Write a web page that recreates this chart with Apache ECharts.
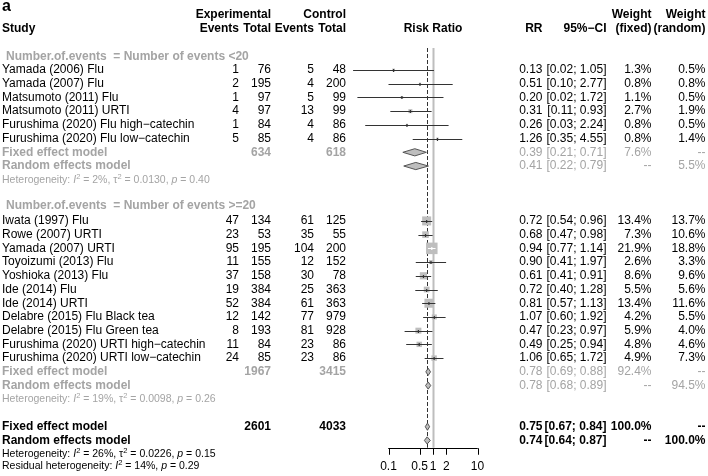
<!DOCTYPE html>
<html><head><meta charset="utf-8">
<script src="https://cdn.jsdelivr.net/npm/echarts@6/dist/echarts.min.js"></script>
<style>html,body{margin:0;padding:0;background:#fff}#c{width:708px;height:476px}</style>
</head><body><div id="c"></div>
<script>
// ---------------- data ----------------
const studies = ['Yamada (2006) Flu','Yamada (2007) Flu','Matsumoto (2011) Flu','Matsumoto (2011) URTI',
  'Furushima (2020) Flu high\u2212catechin','Furushima (2020) Flu low\u2212catechin',
  'Iwata (1997) Flu','Rowe (2007) URTI','Yamada (2007) URTI','Toyoizumi (2013) Flu','Yoshioka (2013) Flu',
  'Ide (2014) Flu','Ide (2014) URTI','Delabre (2015) Flu Black tea','Delabre (2015) Flu Green tea',
  'Furushima (2020) URTI high\u2212catechin','Furushima (2020) URTI low\u2212catechin'];
const studyGroup = [0,0,0,0,0,0, 1,1,1,1,1,1,1,1,1,1,1];
const expEvents  = [1,2,1,4,1,5, 47,23,95,11,37,19,52,12,8,11,24];
const expTotal   = [76,195,97,97,84,85, 134,53,195,155,158,384,384,142,193,84,85];
const ctrlEvents = [5,4,5,13,4,4, 61,35,104,12,30,25,61,77,81,23,23];
const ctrlTotal  = [48,200,99,99,86,86, 125,55,200,152,78,363,363,979,928,86,86];
const rr      = [0.13,0.51,0.20,0.31,0.26,1.26, 0.72,0.68,0.94,0.90,0.61,0.72,0.81,1.07,0.47,0.49,1.06];
const ciLow   = [0.016,0.10,0.02,0.11,0.03,0.35, 0.54,0.47,0.77,0.41,0.41,0.40,0.57,0.60,0.23,0.25,0.65];
const ciHigh  = [1.05,2.77,1.72,0.93,2.24,4.55, 0.96,0.98,1.14,1.97,0.91,1.28,1.13,1.92,0.97,0.94,1.72];
const wFixed  = [1.3,0.8,1.1,2.7,0.8,0.8, 13.4,7.3,21.9,2.6,8.6,5.5,13.4,4.2,5.9,4.8,4.9];
const wRandom = [0.5,0.8,0.5,1.9,0.5,1.4, 13.7,10.6,18.8,3.3,9.6,5.6,11.6,5.5,4.0,4.6,7.3];

const groupLabels = ['Number of events <20','Number of events >=20'];
const groupExpTotal  = [634, 1967];
const groupCtrlTotal = [618, 3415];
const groupFixedRR  = [0.39, 0.78], groupFixedLow  = [0.21, 0.69], groupFixedHigh  = [0.71, 0.88], groupFixedW  = [7.6, 92.4];
const groupRandomRR = [0.41, 0.78], groupRandomLow = [0.22, 0.68], groupRandomHigh = [0.79, 0.89], groupRandomW = [5.5, 94.5];
const hetI2   = ['2%','19%','26%'];
const hetTau2 = ['0.0130','0.0098','0.0226'];
const hetP    = ['0.40','0.26','0.15'];
const overallExpTotal = 2601, overallCtrlTotal = 4033;
const overallFixed  = [0.75, 0.67, 0.84, 100.0];
const overallRandom = [0.74, 0.64, 0.87, 100.0];
const residualI2 = '14%', residualP = '0.29';
const tickValues = [0.1, 0.5, 1, 2, 10];
const tickLabels = ['0.1','0.5','1','2','10'];

// ---------------- layout ----------------
const FONT = '"Liberation Sans", Arial, Helvetica, sans-serif';
const GREY = '#a4a4a4';
const FS = 12;
const COL = {study:2, grp:6, expEv:239, expTot:271, ctrlEv:314, ctrlTot:346, plot:433, rr:542.5, ci:606.5, wf:651.5, wr:705.5};
const SQ_K = 2.46;
const Y_MIN = -1.603, Y_MAX = 28.186, Y_AXIS = 27.53;
const ST = {
  n:  {fontSize:FS, fontWeight:'normal', fill:'#000'},
  b:  {fontSize:FS, fontWeight:'bold', fill:'#000'},
  g:  {fontSize:FS, fontWeight:'normal', fill:GREY},
  gb: {fontSize:FS, fontWeight:'bold', fill:GREY},
  a:  {fontSize:16, fontWeight:'bold', fill:'#000'},
  h:  {fontSize:10.5, fontWeight:'normal', fill:'#000'},
  hg: {fontSize:10.5, fontWeight:'normal', fill:GREY}
};

const textDefs = [], textData = [];
function T(row, x, text, align, st, rich) {
  textDefs.push({x, text, align, st, rich: !!rich});
  textData.push([1, row, textDefs.length - 1]);
}
const f2 = v => v.toFixed(2);
const ci = (lo, hi) => '[' + f2(lo) + '; ' + f2(hi) + ']';
const pct = v => v.toFixed(1) + '%';

// headers
T(-4.6, 2, 'a', 'left', 'a');
T(-4, COL.expTot, 'Experimental', 'right', 'b');
T(-4, COL.ctrlTot, 'Control', 'right', 'b');
T(-4, COL.wf, 'Weight', 'right', 'b');
T(-4, COL.wr, 'Weight', 'right', 'b');
T(-3, COL.study, 'Study', 'left', 'b');
T(-3, COL.expEv, 'Events', 'right', 'b');
T(-3, COL.expTot, 'Total', 'right', 'b');
T(-3, COL.ctrlEv, 'Events', 'right', 'b');
T(-3, COL.ctrlTot, 'Total', 'right', 'b');
T(-3, COL.plot, 'Risk Ratio', 'center', 'b');
T(-3, COL.rr, 'RR', 'right', 'b');
T(-3, COL.ci, '95%\u2212CI', 'right', 'b');
T(-3, COL.wf, '(fixed)', 'right', 'b');
T(-3, COL.wr, '(random)', 'right', 'b');

const studyData = [], diamondData = [];
let row = -1;
for (let g = 0; g < groupLabels.length; g++) {
  T(row - (g ? 0.12 : 0), COL.grp, 'Number.of.events  = ' + groupLabels[g], 'left', 'gb');
  row++;
  for (let i = 0; i < studies.length; i++) {
    if (studyGroup[i] !== g) continue;
    T(row, COL.study, studies[i], 'left', 'n');
    T(row, COL.expEv, String(expEvents[i]), 'right', 'n');
    T(row, COL.expTot, String(expTotal[i]), 'right', 'n');
    T(row, COL.ctrlEv, String(ctrlEvents[i]), 'right', 'n');
    T(row, COL.ctrlTot, String(ctrlTotal[i]), 'right', 'n');
    T(row, COL.rr, f2(rr[i]), 'right', 'n');
    T(row, COL.ci, ci(ciLow[i], ciHigh[i]), 'right', 'n');
    T(row, COL.wf, pct(wFixed[i]), 'right', 'n');
    T(row, COL.wr, pct(wRandom[i]), 'right', 'n');
    studyData.push([rr[i], row, ciLow[i], ciHigh[i], wFixed[i]]);
    row++;
  }
  T(row, COL.study, 'Fixed effect model', 'left', 'gb');
  T(row, COL.expTot, String(groupExpTotal[g]), 'right', 'gb');
  T(row, COL.ctrlTot, String(groupCtrlTotal[g]), 'right', 'gb');
  T(row, COL.rr, f2(groupFixedRR[g]), 'right', 'g');
  T(row, COL.ci, ci(groupFixedLow[g], groupFixedHigh[g]), 'right', 'g');
  T(row, COL.wf, pct(groupFixedW[g]), 'right', 'g');
  T(row, COL.wr, '--', 'right', 'g');
  diamondData.push([groupFixedRR[g], row, groupFixedLow[g], groupFixedHigh[g]]);
  row++;
  T(row, COL.study, 'Random effects model', 'left', 'gb');
  T(row, COL.rr, f2(groupRandomRR[g]), 'right', 'g');
  T(row, COL.ci, ci(groupRandomLow[g], groupRandomHigh[g]), 'right', 'g');
  T(row, COL.wf, '--', 'right', 'g');
  T(row, COL.wr, pct(groupRandomW[g]), 'right', 'g');
  diamondData.push([groupRandomRR[g], row, groupRandomLow[g], groupRandomHigh[g]]);
  row++;
  T(row, COL.study, 'Heterogeneity: {it|I}{sup|2} = ' + hetI2[g] + ', \u03c4{sup|2} = ' + hetTau2[g] + ', {it|p} = ' + hetP[g], 'left', 'hg', true);
  row += 2;
}
T(row, COL.study, 'Fixed effect model', 'left', 'b');
T(row, COL.expTot, String(overallExpTotal), 'right', 'b');
T(row, COL.ctrlTot, String(overallCtrlTotal), 'right', 'b');
T(row, COL.rr, f2(overallFixed[0]), 'right', 'b');
T(row, COL.ci, ci(overallFixed[1], overallFixed[2]), 'right', 'b');
T(row, COL.wf, pct(overallFixed[3]), 'right', 'b');
T(row, COL.wr, '--', 'right', 'b');
diamondData.push([overallFixed[0], row, overallFixed[1], overallFixed[2]]);
row++;
T(row, COL.study, 'Random effects model', 'left', 'b');
T(row, COL.rr, f2(overallRandom[0]), 'right', 'b');
T(row, COL.ci, ci(overallRandom[1], overallRandom[2]), 'right', 'b');
T(row, COL.wf, '--', 'right', 'b');
T(row, COL.wr, pct(overallRandom[3]), 'right', 'b');
diamondData.push([overallRandom[0], row, overallRandom[1], overallRandom[2]]);
T(row + 0.97, COL.study, 'Heterogeneity: {it|I}{sup|2} = ' + hetI2[2] + ', \u03c4{sup|2} = ' + hetTau2[2] + ', {it|p} = ' + hetP[2], 'left', 'h', true);
T(row + 1.86, COL.study, 'Residual heterogeneity: {it|I}{sup|2} = ' + residualI2 + ', {it|p} = ' + residualP, 'left', 'h', true);

// guides: [x, kind, x2, yRow]  kind 0 = no-effect line at 1, 1 = fixed-effect line, 2 = axis line, 3 = axis tick
const guideData = [[1, 0, 1, Y_AXIS], [overallFixed[0], 1, overallFixed[0], Y_AXIS],
  [tickValues[0], 2, tickValues[tickValues.length - 1], Y_AXIS]]
  .concat(tickValues.map(v => [v, 3, v, Y_AXIS]));

// ---------------- chart ----------------
const chart = echarts.init(document.getElementById('c'), null, {renderer: 'canvas'});
const px = v => Math.round(v) + 0.5;

chart.setOption({
  animation: false,
  backgroundColor: '#fff',
  grid: {left: 388.5, width: 89, top: 48, height: 408.7, outerBoundsMode: 'none', containLabel: false},
  xAxis: {
    type: 'log', logBase: 10, min: 0.1, max: 10,
    axisLine: {show: false, onZero: false},
    axisTick: {show: false},
    axisLabel: {
      customValues: tickValues, margin: 4, fontSize: 12, color: '#000', fontFamily: FONT,
      formatter: v => {
        const k = tickValues.findIndex(t => Math.abs(Math.log10(t) - Math.log10(v)) < 1e-6);
        return k >= 0 ? tickLabels[k] : '';
      }
    },
    splitLine: {show: false}
  },
  yAxis: {type: 'value', inverse: true, min: Y_MIN, max: Y_MAX, show: false},
  series: [
    {
      type: 'custom', name: 'guides', z: 2, clip: false, data: guideData, encode: {x: 0, y: 3},
      renderItem: (params, api) => {
        const cs = params.coordSys;
        const kind = api.value(1);
        const p = api.coord([api.value(0), api.value(3)]);
        const yb = px(p[1]);
        if (kind === 2) {
          const p2 = api.coord([api.value(2), api.value(3)]);
          return {type: 'line', shape: {x1: p[0], y1: yb, x2: p2[0], y2: yb}, style: {stroke: '#000', lineWidth: 1}};
        }
        if (kind === 3) {
          return {type: 'line', shape: {x1: px(p[0]), y1: yb, x2: px(p[0]), y2: yb + 6}, style: {stroke: '#000', lineWidth: 1}};
        }
        return {
          type: 'line',
          shape: {x1: px(p[0]), y1: cs.y, x2: px(p[0]), y2: p[1]},
          style: kind === 1 ? {stroke: '#333', lineWidth: 1, lineDash: [4, 2]} : {stroke: '#bebebe', lineWidth: 2}
        };
      }
    },
    {
      type: 'custom', name: 'studies', z: 3, clip: false, data: studyData, encode: {x: 0, y: 1},
      renderItem: (params, api) => {
        const r = api.value(1);
        const est = api.coord([api.value(0), r]);
        const lo = api.coord([api.value(2), r]);
        const hi = api.coord([api.value(3), r]);
        const side = SQ_K * Math.sqrt(api.value(4));
        const inside = lo[0] >= est[0] - side / 2 && hi[0] <= est[0] + side / 2;
        const lc = inside ? '#fff' : '#333';
        const y = px(est[1]);
        return {type: 'group', children: [
          {type: 'rect', shape: {x: est[0] - side / 2, y: est[1] - side / 2, width: side, height: side}, style: {fill: '#bebebe'}},
          {type: 'line', shape: {x1: lo[0], y1: y, x2: hi[0], y2: y}, style: {stroke: lc, lineWidth: 1}},
          {type: 'line', shape: {x1: est[0], y1: y - 1.5, x2: est[0], y2: y + 1.5}, style: {stroke: lc, lineWidth: 1.2}}
        ]};
      }
    },
    {
      type: 'custom', name: 'diamonds', z: 3, clip: false, data: diamondData, encode: {x: 0, y: 1},
      renderItem: (params, api) => {
        const r = api.value(1);
        const est = api.coord([api.value(0), r]);
        const lo = api.coord([api.value(2), r]);
        const hi = api.coord([api.value(3), r]);
        const h = 3.6;
        return {type: 'polygon', shape: {points: [[lo[0], est[1]], [est[0], est[1] - h], [hi[0], est[1]], [est[0], est[1] + h]]},
          style: {fill: '#bebebe', stroke: '#555', lineWidth: 1}};
      }
    },
    {
      type: 'custom', name: 'texts', z: 4, clip: false, data: textData, encode: {x: 0, y: 1},
      renderItem: (params, api) => {
        const d = textDefs[api.value(2)];
        const s = ST[d.st];
        const y = api.coord([1, api.value(1)])[1];
        const style = {
          text: d.text, x: 0, y: 0, fill: s.fill, fontSize: s.fontSize, fontWeight: s.fontWeight,
          fontFamily: FONT, align: d.align, verticalAlign: 'middle'
        };
        if (d.rich) {
          style.lineHeight = 14;
          style.rich = {
            it: {fontStyle: 'italic', fontSize: s.fontSize, fill: s.fill, fontFamily: FONT, lineHeight: 14},
            sup: {fontSize: 7.5, fill: s.fill, fontFamily: FONT, verticalAlign: 'top', lineHeight: 7}
          };
        }
        return {type: 'text', x: d.x, y: y, style: style};
      }
    }
  ]
});

// same axis line and ticks again as graphic elements (identical pixels), positioned through the chart's scales
try {
  const axisElems = [];
  const pStart = chart.convertToPixel({gridIndex: 0}, [tickValues[0], Y_AXIS]);
  const pEnd = chart.convertToPixel({gridIndex: 0}, [tickValues[tickValues.length - 1], Y_AXIS]);
  if (pStart && pEnd && isFinite(pStart[1])) {
    const yA = px(pStart[1]);
    axisElems.push({type: 'line', z: 100, silent: true,
      shape: {x1: pStart[0], y1: yA, x2: pEnd[0], y2: yA}, style: {stroke: '#000', lineWidth: 1}});
    tickValues.forEach(v => {
      const p = chart.convertToPixel({gridIndex: 0}, [v, Y_AXIS]);
      const xt = px(p[0]);
      axisElems.push({type: 'line', z: 100, silent: true,
        shape: {x1: xt, y1: yA, x2: xt, y2: yA + 6}, style: {stroke: '#000', lineWidth: 1}});
    });
    chart.setOption({graphic: axisElems});
  }
} catch (e) {}
</script>
</body></html>
